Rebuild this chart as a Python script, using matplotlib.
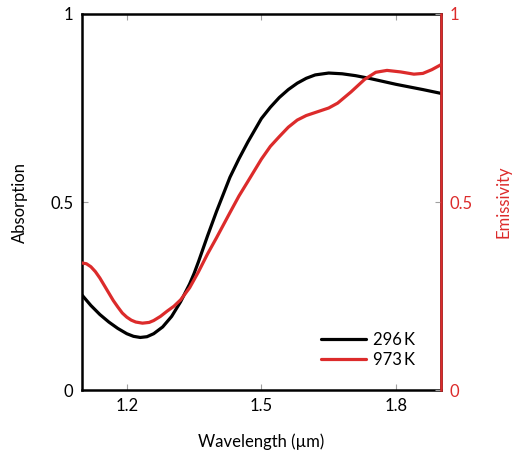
import matplotlib
matplotlib.use("Agg")
import matplotlib.pyplot as plt

plt.rcParams['font.family'] = ['Lato', 'DejaVu Sans']

wl_296 = [1.10, 1.12, 1.14, 1.16, 1.18, 1.20, 1.215, 1.23, 1.245, 1.26, 1.28, 1.30, 1.32, 1.34,
          1.35, 1.36, 1.38, 1.40, 1.43, 1.45, 1.47, 1.50, 1.52, 1.54, 1.56, 1.58, 1.60, 1.62,
          1.65, 1.68, 1.71, 1.74, 1.77, 1.80, 1.83, 1.86, 1.90]
abs_296 = [0.253, 0.225, 0.201, 0.181, 0.164, 0.150, 0.143, 0.140, 0.142, 0.150, 0.168, 0.196,
           0.235, 0.282, 0.310, 0.342, 0.410, 0.475, 0.566, 0.615, 0.660, 0.722, 0.752, 0.778,
           0.799, 0.816, 0.829, 0.838, 0.843, 0.841, 0.836, 0.829, 0.821, 0.813, 0.806, 0.799,
           0.789]

wl_973 = [1.10, 1.11, 1.12, 1.13, 1.14, 1.15, 1.16, 1.17, 1.18, 1.19, 1.20, 1.21, 1.22, 1.235,
          1.25, 1.26, 1.275, 1.29, 1.305, 1.32, 1.34, 1.36, 1.38, 1.40, 1.43, 1.45, 1.47, 1.50,
          1.52, 1.54, 1.56, 1.58, 1.60, 1.62, 1.65, 1.67, 1.70, 1.73, 1.755, 1.78, 1.81, 1.84,
          1.86, 1.88, 1.90]
emis_973 = [0.338, 0.336, 0.328, 0.315, 0.298, 0.278, 0.258, 0.238, 0.221, 0.205, 0.194, 0.186,
            0.181, 0.178, 0.180, 0.185, 0.196, 0.210, 0.223, 0.240, 0.272, 0.315, 0.362, 0.405,
            0.472, 0.516, 0.555, 0.614, 0.648, 0.674, 0.699, 0.718, 0.730, 0.738, 0.750, 0.763,
            0.793, 0.826, 0.845, 0.850, 0.846, 0.840, 0.842, 0.852, 0.865]

x_ticks = [1.2, 1.5, 1.8]
x_ticklabels = ['1.2', '1.5', '1.8']
y_ticks = [0, 0.5, 1]
y_ticklabels = ['0', '0.5', '1']

RED = '#dc2b2b'
GRAY = '#a0a0a0'
FS = 12

fig = plt.figure(figsize=(5.12, 4.51), dpi=100)
ax = fig.add_axes([0.160, 0.135, 0.701, 0.834])
ax2 = ax.twinx()

l1, = ax.plot(wl_296, abs_296, color='black', lw=2.3, label='296\u2009K',
              solid_capstyle='round', solid_joinstyle='round')
l2, = ax2.plot(wl_973, emis_973, color=RED, lw=2.3, label='973\u2009K',
               solid_capstyle='round', solid_joinstyle='round')

for a in (ax, ax2):
    a.set_xlim(1.1, 1.9)
    a.set_ylim(0, 1)
    for s in a.spines.values():
        s.set_linewidth(1.8)

ax.set_xticks(x_ticks)
ax.set_xticklabels(x_ticklabels)
ax.set_yticks(y_ticks)
ax.set_yticklabels(y_ticklabels)
ax.tick_params(axis='both', direction='in', length=4.5, width=0.8, color=GRAY,
               labelsize=FS, pad=6, top=True)
ax.tick_params(axis='y', right=False)

ax2.set_yticks(y_ticks)
ax2.set_yticklabels(y_ticklabels)
ax2.tick_params(axis='y', direction='in', length=4.5, width=0.8, color=GRAY,
                labelsize=FS, labelcolor=RED, pad=6)
ax2.spines['right'].set_color(RED)
ax2.spines['left'].set_visible(False)
ax2.spines['top'].set_visible(False)
ax2.spines['bottom'].set_visible(False)

ax.set_xlabel('Wavelength (\u00b5m)', fontsize=FS, labelpad=14)
ax.set_ylabel('Absorption', fontsize=FS, labelpad=16)
ax2.set_ylabel('Emissivity', fontsize=FS, color=RED, labelpad=17)

ax2.legend(handles=[l1, l2], loc='lower right', frameon=False, fontsize=FS,
           handlelength=2.7, handletextpad=0.4, labelspacing=0.2,
           bbox_to_anchor=(0.97, 0.02))

fig.savefig('out.png', dpi=100)
